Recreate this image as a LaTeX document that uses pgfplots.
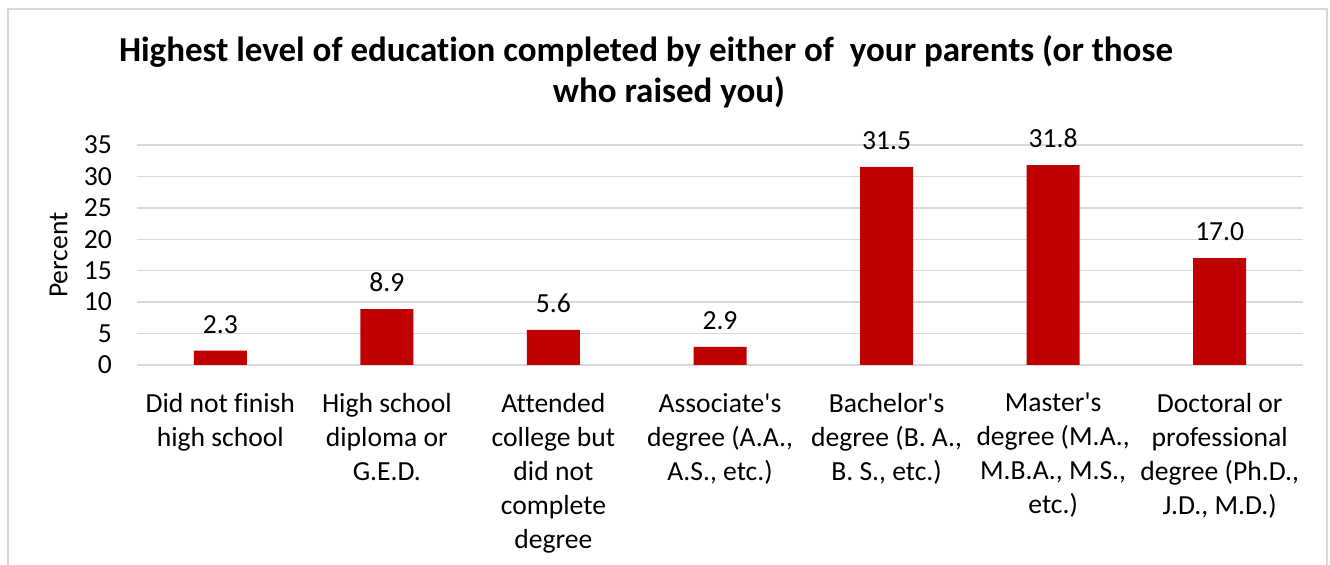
\documentclass[border=0pt]{standalone}
\usepackage{pgfplots}
\pgfplotsset{compat=1.18}
\usepackage{fontspec}
\setmainfont{Carlito}[Ligatures={NoCommon,TeXOff}]
\definecolor{barred}{HTML}{C00000}
\definecolor{gridgray}{HTML}{D9D9D9}

\begin{document}
\begin{tikzpicture}
\useasboundingbox (0,0) rectangle (665pt,282.5pt);
% chart frame (bottom edge is cut off in the reference)
\draw[gridgray, line width=0.75pt] (4pt,0) -- (4pt,278pt) -- (663.5pt,278pt) -- (663.5pt,0);
\node[font=\fontsize{17.5}{21}\selectfont\bfseries, anchor=base] at (323pt,251.5pt)
  {Highest level of education completed by either of\ \ your parents (or those};
\node[font=\fontsize{17.5}{21}\selectfont\bfseries, anchor=base] at (334.5pt,231pt)
  {who raised you)};
\begin{axis}[
  at={(68.5pt,100pt)}, anchor=south west,
  scale only axis, width=583pt, height=110pt,
  ymin=0, ymax=35, ytick={0,5,...,35},
  xmin=-0.5, xmax=6.5, xtick={0,...,6},
  xticklabels={
    {Did not finish\\high school},
    {High school\\diploma or\\G.E.D.},
    {Attended\\college but\\did not\\complete\\degree},
    {Associate's\\degree (A.A.,\\A.S., etc.)},
    {Bachelor's\\degree (B. A.,\\B. S., etc.)},
    {Master's\\degree (M.A.,\\M.B.A., M.S.,\\etc.)},
    {Doctoral or\\professional\\degree (Ph.D.,\\J.D., M.D.)}},
  axis line style={draw=none},
  major tick length=0pt,
  ymajorgrids, grid style={gridgray, line width=0.75pt},
  ybar, bar width=26.5pt,
  /pgf/number format/assume math mode=true,
  tick label style={font=\fontsize{13.8}{17}\selectfont},
  yticklabel style={xshift=-9pt},
  xticklabel style={align=center, anchor=north, yshift=-10.5pt},
  ylabel=Percent,
  ylabel style={font=\fontsize{13.8}{17}\selectfont, at={(axis description cs:-0.0673,0.5)}, anchor=center},
  nodes near coords={\pgfmathprintnumber[fixed,fixed zerofill,precision=1]{\pgfplotspointmeta}},
  every node near coord/.append style={font=\fontsize{13.8}{17}\selectfont, yshift=5pt},
]
\addplot[fill=barred, draw=none] coordinates {
  (0,2.3) (1,8.9) (2,5.6) (3,2.9) (4,31.5) (5,31.8) (6,17.0)
};
\end{axis}
\end{tikzpicture}
\end{document}
